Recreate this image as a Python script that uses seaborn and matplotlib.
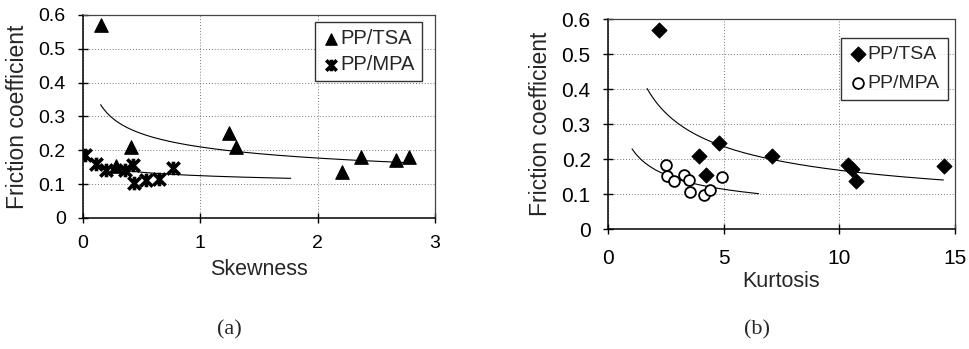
import numpy as np
import pandas as pd
import matplotlib
matplotlib.use('Agg')
import matplotlib.pyplot as plt
import seaborn as sns
from matplotlib.path import Path

# ---- data ----
# (a) skewness
skew_tsa_x = [0.155, 0.283, 0.405, 1.24, 1.30, 2.21, 2.37, 2.67, 2.78]
skew_tsa_y = [0.570, 0.155, 0.211, 0.250, 0.210, 0.137, 0.180, 0.172, 0.180]
skew_mpa_x = [0.014, 0.113, 0.198, 0.354, 0.425, 0.433, 0.538, 0.650, 0.765]
skew_mpa_y = [0.186, 0.160, 0.142, 0.142, 0.157, 0.102, 0.112, 0.114, 0.147]

# (b) kurtosis
kurt_tsa_x = [2.19, 3.92, 4.25, 4.78, 7.10, 10.36, 10.54, 10.72, 14.53]
kurt_tsa_y = [0.570, 0.209, 0.155, 0.247, 0.209, 0.183, 0.171, 0.136, 0.179]
kurt_mpa_x = [2.52, 2.55, 2.87, 3.30, 3.49, 3.53, 4.16, 4.42, 4.93]
kurt_mpa_y = [0.182, 0.152, 0.136, 0.153, 0.141, 0.107, 0.098, 0.112, 0.150]

# power trendlines y = a * x^b (a, b, x start, x end)
skew_tsa_fit = (0.210, -0.246, 0.15, 2.80)
skew_mpa_fit = (0.125, -0.113, 0.03, 1.77)
kurt_tsa_fit = (0.519, -0.490, 1.69, 14.5)
kurt_mpa_fit = (0.233, -0.446, 1.04, 6.51)

y_ticks = [0, 0.1, 0.2, 0.3, 0.4, 0.5, 0.6]
y_ticklabels = ['0', '0.1', '0.2', '0.3', '0.4', '0.5', '0.6']

sns.set_style('ticks')
plt.rcParams['font.family'] = ['Liberation Sans', 'DejaVu Sans']

# Excel style star: X with a vertical bar
star = Path([(-1, -1), (1, 1), (-1, 1), (1, -1), (0, -1.1), (0, 1.1)],
            [Path.MOVETO, Path.LINETO, Path.MOVETO, Path.LINETO, Path.MOVETO, Path.LINETO])

fig = plt.figure(figsize=(9.7, 3.49), dpi=100)
ax1 = fig.add_axes([0.0856, 0.3754, 0.3629, 0.5817])
ax2 = fig.add_axes([0.6268, 0.3438, 0.3577, 0.6017])


def trend(ax, fit):
    a, b, x0, x1 = fit
    xs = np.linspace(x0, x1, 200)
    sns.lineplot(x=xs, y=a * xs ** b, ax=ax, color='black', linewidth=0.8, legend=False)


def style_axes(ax, xticks, xlabel, fs):
    ax.set_xlim(xticks[0], xticks[-1])
    ax.set_ylim(0, 0.6)
    ax.set_xticks(xticks)
    ax.set_xticklabels([str(t) for t in xticks])
    ax.set_yticks(y_ticks)
    ax.set_yticklabels(y_ticklabels)
    ax.grid(True, linestyle=(0, (1, 2)), color='#777777', linewidth=0.7)
    ax.set_axisbelow(True)
    for s in ['left', 'bottom']:
        ax.spines[s].set_color('black')
        ax.spines[s].set_linewidth(1.1)
    for s in ['top', 'right']:
        ax.spines[s].set_visible(True)
        ax.spines[s].set_color('#444444')
        ax.spines[s].set_linewidth(0.9)
    ax.tick_params(direction='inout', length=7, width=1, labelsize=fs, colors='black')
    ax.tick_params(axis='y', pad=9)
    ax.tick_params(axis='x', pad=9)
    ax.set_ylabel('Friction coefficient', fontsize=16.5, labelpad=7)
    ax.set_xlabel(xlabel, fontsize=15.5, labelpad=5)


# ---- (a) ----
trend(ax1, skew_tsa_fit)
trend(ax1, skew_mpa_fit)
sns.scatterplot(x=skew_tsa_x, y=skew_tsa_y, ax=ax1, marker='^', s=95, color='black',
                edgecolor='black', label='PP/TSA', zorder=3)
sns.scatterplot(x=skew_mpa_x, y=skew_mpa_y, ax=ax1, marker=star, s=95, color='black',
                edgecolor='black', linewidth=2.6, label='PP/MPA', zorder=3)
style_axes(ax1, [0, 1, 2, 3], 'Skewness', 14)
leg = ax1.legend(loc='upper right', bbox_to_anchor=(0.975, 0.985), fontsize=14.5, frameon=True,
                 fancybox=False, edgecolor='black', handletextpad=0.05, borderpad=0.35,
                 handlelength=0.9, labelspacing=0.35, borderaxespad=0.2, markerscale=0.85)
leg.get_frame().set_linewidth(1.0)

# ---- (b) ----
trend(ax2, kurt_tsa_fit)
trend(ax2, kurt_mpa_fit)
sns.scatterplot(x=kurt_tsa_x, y=kurt_tsa_y, ax=ax2, marker='D', s=60, color='black',
                edgecolor='black', label='PP/TSA', zorder=3)
sns.scatterplot(x=kurt_mpa_x, y=kurt_mpa_y, ax=ax2, marker='o', s=60, facecolor='white',
                edgecolor='black', linewidth=1.3, label='PP/MPA', zorder=3)
style_axes(ax2, [0, 5, 10, 15], 'Kurtosis', 15)
ax2.tick_params(axis='x', pad=11)
ax2.xaxis.labelpad = 2
leg = ax2.legend(loc='upper right', bbox_to_anchor=(0.99, 0.93), fontsize=14, frameon=True,
                 fancybox=False, edgecolor='black', handletextpad=0.05, borderpad=0.4,
                 handlelength=0.9, labelspacing=0.6, borderaxespad=0.2)
leg.get_frame().set_linewidth(1.0)

fig.text(0.236, 0.055, '(a)', family=['Liberation Serif', 'DejaVu Serif'], fontsize=16,
         ha='center', va='center')
fig.text(0.780, 0.055, '(b)', family=['Liberation Serif', 'DejaVu Serif'], fontsize=16,
         ha='center', va='center')

fig.savefig('out.png', dpi=100)
